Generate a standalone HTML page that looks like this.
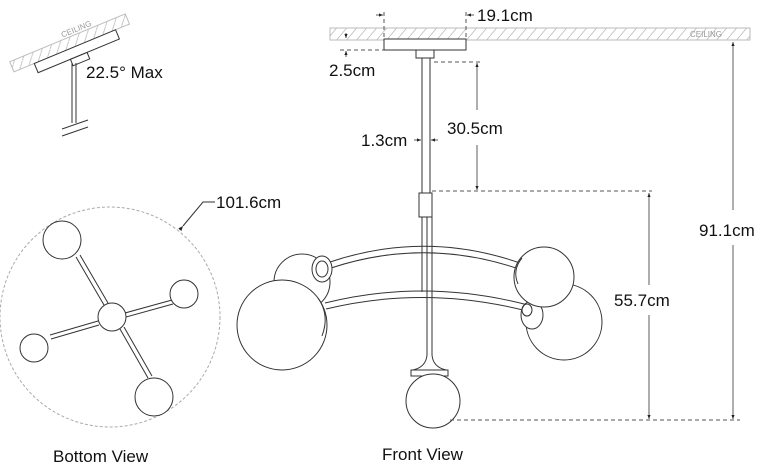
<!DOCTYPE html>
<html><head><style>
html,body{margin:0;padding:0;background:#fff;}
svg{display:block;}
text{font-family:"Liberation Sans",sans-serif;fill:#111;}
</style></head><body>
<svg width="764" height="468" viewBox="0 0 764 468" xmlns="http://www.w3.org/2000/svg">
<defs>
<pattern id="h" width="10" height="12" patternUnits="userSpaceOnUse">
<line x1="0" y1="12" x2="10" y2="0" stroke="#bbb" stroke-width="0.8"/>
</pattern>
<marker id="a" markerWidth="6" markerHeight="6" refX="5" refY="3" orient="auto"><path d="M0,1 L5,3 L0,5 Z" fill="#222"/></marker>
</defs>
<g fill="none" stroke="#333" stroke-width="1">
<g transform="translate(2,5) rotate(-22.5 70 45)">
<rect x="8" y="32" width="125" height="11" fill="url(#h)" stroke="#bbb"/>
<rect x="30" y="43" width="88" height="10" fill="#fff"/>
<rect x="65" y="53" width="18" height="7" fill="#fff"/>
</g>
<line x1="72" y1="63" x2="72" y2="123"/><line x1="76" y1="63" x2="76" y2="123"/>
<line x1="62" y1="129" x2="88" y2="120"/><line x1="62" y1="136" x2="88" y2="127"/>
<rect x="330" y="28" width="420" height="12" fill="url(#h)" stroke="#bbb"/>
<rect x="384" y="39" width="82" height="11" fill="#fff"/>
<rect x="416" y="50" width="18" height="8" fill="#fff"/>
<line x1="422" y1="58" x2="422" y2="193"/><line x1="430" y1="58" x2="430" y2="193"/>
<rect x="419" y="193" width="13" height="24" fill="#fff"/>
<line x1="422" y1="217" x2="422" y2="292"/><line x1="427" y1="217" x2="427" y2="292"/>
<line x1="427" y1="292" x2="427" y2="355"/><line x1="432" y1="217" x2="432" y2="355"/>
<path d="M427,355 Q426,367 413,370 M432,355 Q433,367 446,370"/>
<rect x="411" y="370" width="37" height="6" fill="#fff"/>
<path d="M330,262 Q425,230 520,263"/><path d="M331,268 Q425,237 519,269"/>
<path d="M325,303 Q425,278 528,305"/><path d="M326,309 Q425,285 527,311"/>
<circle cx="302" cy="282" r="28" fill="#fff"/>
<ellipse cx="322" cy="269" rx="10" ry="13" fill="#fff"/><ellipse cx="322" cy="269" rx="6" ry="8"/>
<circle cx="282" cy="325" r="45" fill="#fff"/>
<path d="M318,298 Q330,315 322,336"/>
<circle cx="564" cy="322" r="38" fill="#fff"/>
<ellipse cx="532" cy="315" rx="11" ry="14" fill="#fff"/><ellipse cx="527" cy="310" rx="5" ry="6"/>
<circle cx="544" cy="277" r="30" fill="#fff"/>
<path d="M522,258 Q512,270 518,284"/>
<circle cx="433" cy="401" r="27" fill="#fff"/>
<circle cx="110" cy="317" r="110" stroke="#aaa" stroke-dasharray="3,2"/>
<path d="M76,257 L104,305 M80,255 L108,303 M120,329 L148,378 M124,327 L152,376 M125,313 L172,300 M126,317 L173,304 M98,321 L50,335 M99,325 L51,339"/>
<circle cx="112" cy="317" r="14" fill="#fff"/>
<circle cx="62" cy="240" r="19" fill="#fff"/>
<circle cx="184" cy="294" r="14" fill="#fff"/>
<circle cx="34" cy="348" r="14" fill="#fff"/>
<circle cx="154" cy="397" r="19" fill="#fff"/>
<path d="M183,226 L203,202 L215,202" marker-start="url(#a)"/>
</g>
<g stroke="#555" stroke-width="1" fill="none" stroke-dasharray="4,3">
<line x1="384" y1="12" x2="384" y2="39"/><line x1="466" y1="12" x2="466" y2="39"/>
<line x1="340" y1="50" x2="384" y2="50"/>
<line x1="434" y1="62" x2="480" y2="62"/>
<line x1="432" y1="191" x2="652" y2="191"/>
<line x1="450" y1="420" x2="740" y2="420"/>
</g>
<g stroke="#333" stroke-width="0.8" fill="none">
<line x1="376" y1="15" x2="383" y2="15" marker-end="url(#a)"/>
<line x1="474" y1="15" x2="467" y2="15" marker-end="url(#a)"/>
<line x1="346" y1="33" x2="346" y2="38" marker-end="url(#a)"/>
<line x1="346" y1="57" x2="346" y2="51" marker-end="url(#a)"/>
<line x1="414" y1="140" x2="421" y2="140" marker-end="url(#a)"/>
<line x1="438" y1="140" x2="431" y2="140" marker-end="url(#a)"/>
<line x1="477" y1="110" x2="477" y2="63" marker-end="url(#a)"/>
<line x1="477" y1="145" x2="477" y2="190" marker-end="url(#a)"/>
<line x1="649" y1="285" x2="649" y2="193" marker-end="url(#a)"/>
<line x1="649" y1="315" x2="649" y2="419" marker-end="url(#a)"/>
<line x1="733" y1="210" x2="733" y2="42" marker-end="url(#a)"/>
<line x1="733" y1="245" x2="733" y2="419" marker-end="url(#a)"/>
</g>
<text x="59" y="30" font-size="8" style="fill:#999" transform="rotate(-22.5 80 25)">CEILING</text>
<text x="690" y="37" font-size="8" style="fill:#999">CEILING</text>
<text x="86" y="78" font-size="17">22.5° Max</text>
<text x="477" y="21" font-size="17">19.1cm</text>
<text x="329" y="76" font-size="17">2.5cm</text>
<text x="361" y="146" font-size="17">1.3cm</text>
<text x="447" y="134" font-size="17">30.5cm</text>
<text x="614" y="306" font-size="17">55.7cm</text>
<text x="699" y="236" font-size="17">91.1cm</text>
<text x="216" y="208" font-size="17">101.6cm</text>
<text x="53" y="462" font-size="17">Bottom View</text>
<text x="382" y="460" font-size="17">Front View</text>
</svg>
</body></html>
